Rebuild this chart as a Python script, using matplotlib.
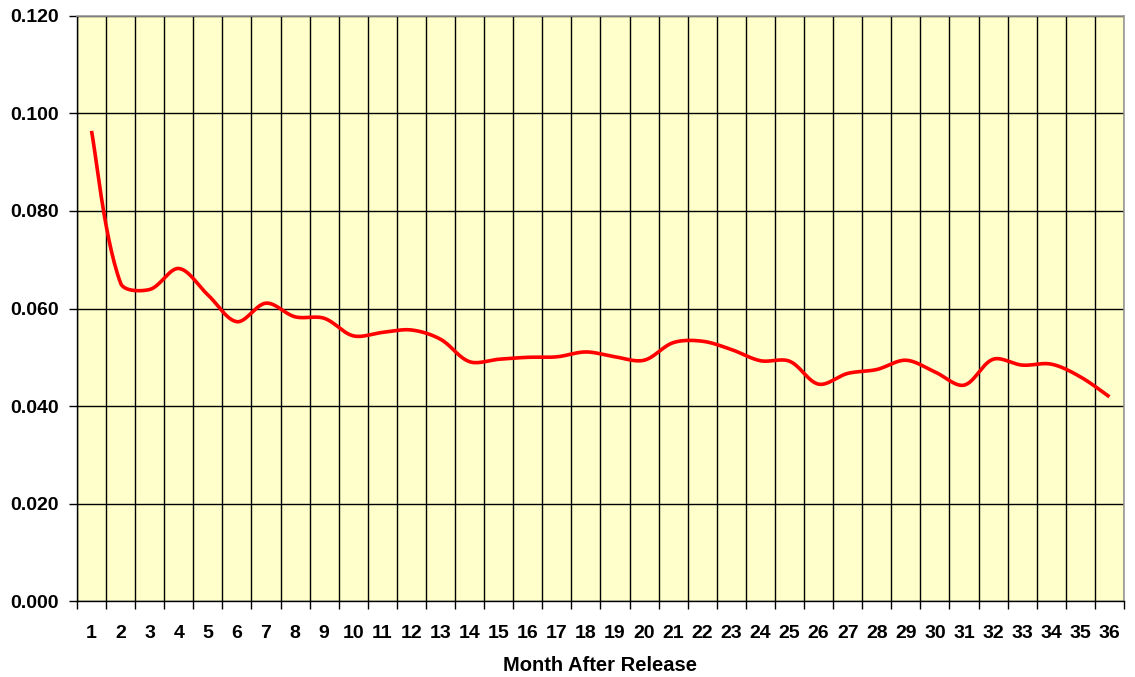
import matplotlib
matplotlib.use("Agg")
import matplotlib.pyplot as plt
from matplotlib.ticker import FixedLocator, FuncFormatter
import numpy as np

matplotlib.rcParams['font.family'] = ['Liberation Sans', 'DejaVu Sans']
matplotlib.rcParams['font.weight'] = 'bold'
matplotlib.rcParams['font.size'] = 14

# datos
months = list(range(1, 37))
rate = [0.0964, 0.0652, 0.0639, 0.0682, 0.0628, 0.0573, 0.0611, 0.0583, 0.0580,
        0.0544, 0.0551, 0.0556, 0.0537, 0.0491, 0.0496, 0.0500, 0.0501, 0.0511,
        0.0501, 0.0494, 0.0530, 0.0533, 0.0516, 0.0493, 0.0492, 0.0445, 0.0467,
        0.0475, 0.0494, 0.0470, 0.0443, 0.0496, 0.0484, 0.0486, 0.0460, 0.0419]
y_ticks = [0.0, 0.02, 0.04, 0.06, 0.08, 0.10, 0.12]
x_label = 'Month After Release'

fig_w, fig_h = 11.35, 6.77
ax_rect = [0.0678, 0.1118, 0.9225, 0.865]
x_lim = (0.5, 36.5)
y_lim = (0, 0.12)


def smooth_line(x, y, sx, sy, n=30):
    # curva suavizada tipo Excel, calculada en pixeles
    p = np.column_stack([np.asarray(x) * sx, np.asarray(y) * sy]).astype(float)
    p_ext = np.vstack([p[0], p, p[-1]])
    t = np.linspace(0, 1, n)[:, None]
    segs = []
    for i in range(len(p) - 1):
        q0, q1, q2, q3 = p_ext[i], p_ext[i + 1], p_ext[i + 2], p_ext[i + 3]
        d01 = np.hypot(*(q1 - q0))
        d12 = np.hypot(*(q2 - q1))
        d23 = np.hypot(*(q3 - q2))
        f1 = d12 / (d01 + d12) / 3 if d01 > 0 else 1 / 6
        f2 = d12 / (d12 + d23) / 3 if d23 > 0 else 1 / 6
        c1 = q1 + f1 * (q2 - q0)
        c2 = q2 - f2 * (q3 - q1)
        seg = ((1 - t) ** 3) * q1 + 3 * ((1 - t) ** 2) * t * c1 \
            + 3 * (1 - t) * t ** 2 * c2 + t ** 3 * q2
        segs.append(seg if i == 0 else seg[1:])
    pts = np.vstack(segs)
    return pts[:, 0] / sx, pts[:, 1] / sy


fig = plt.figure(figsize=(fig_w, fig_h), dpi=100)
ax = fig.add_axes(ax_rect)
ax.set_facecolor('#FFFFCC')

# escala pixel por unidad de datos
px_x = fig_w * 100 * ax_rect[2] / (x_lim[1] - x_lim[0])
px_y = fig_h * 100 * ax_rect[3] / (y_lim[1] - y_lim[0])
cx, cy = smooth_line(months, rate, px_x, px_y)
ax.plot(cx, cy, color='#FF0000', linewidth=2.6, solid_capstyle='butt', zorder=3)

ax.set_xlim(*x_lim)
ax.set_ylim(*y_lim)

# etiquetas en el centro de cada categoria, marcas y grilla en los bordes
ax.xaxis.set_major_locator(FixedLocator(months))
ax.xaxis.set_minor_locator(FixedLocator(np.arange(0.5, 37, 1)))
ax.tick_params(axis='x', which='major', length=0, pad=17)
ax.tick_params(axis='x', which='minor', length=6, width=1, color='black')
ax.grid(True, axis='x', which='minor', color='black', linewidth=1)

ax.set_yticks(y_ticks)
ax.yaxis.set_major_formatter(FuncFormatter(lambda v, pos: f"{v:.3f}"))
ax.tick_params(axis='y', length=6, width=1, pad=7)
ax.grid(True, axis='y', which='major', color='black', linewidth=1)
ax.set_axisbelow(True)

for side in ['left', 'bottom']:
    ax.spines[side].set_color('black')
    ax.spines[side].set_linewidth(1)
for side in ['top', 'right']:
    ax.spines[side].set_color('#999999')
    ax.spines[side].set_linewidth(1.2)

ax.set_xlabel(x_label, fontweight='bold', fontsize=14.5, labelpad=10)

fig.savefig('out.png', dpi=100)
